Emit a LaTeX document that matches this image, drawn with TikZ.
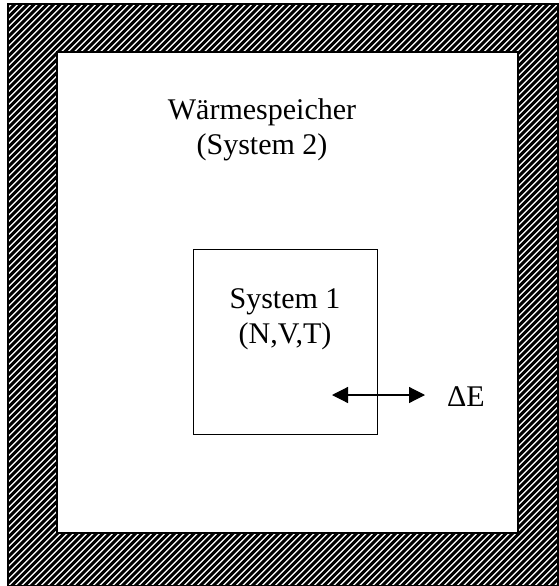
\documentclass[tikz,border=0pt]{standalone}
\usepackage{fontspec}
\setmainfont{Liberation Serif}
\usetikzlibrary{arrows.meta}
\begin{document}
\begin{tikzpicture}[x=1pt,y=-1pt,
  lbl/.style={font=\fontsize{30}{35}\selectfont, align=center, inner sep=0pt},
  hatch/.style={line width=3.1pt, black},
  edge/.style={line width=1.2pt, black},
  box/.style={draw=black, line width=1pt},
  exch/.style={line width=1.2pt, {Triangle[length=16pt,width=16pt]}-{Triangle[length=16pt,width=16pt]}}]
  \useasboundingbox (0,0) rectangle (558,586);
  \fill[white] (0,0) rectangle (558,586);
  % hatched wall
  \begin{scope}
    \clip (8,4) rectangle (558,586);
    \foreach \i in {-620,-613.5,...,580} {
      \draw[hatch] (\i,600) -- ++(620,-620);
    }
  \end{scope}
  \fill[white] (57,52) rectangle (518,533);
  \draw[edge] (8,4) rectangle (558,586);
  \draw[edge] (57,52) rectangle (518,533);
  % system 1 box
  \draw[box] (193,249) rectangle (377,434);
  % labels
  \node[lbl] (reservoir) at (262,130) {Wärmespeicher\\(System 2)};
  \node[lbl] (sys1) at (285,319) {System 1\\(N,V,T)};
  \node[lbl, anchor=base] (dE) at (466,406) {ΔE};
  % energy exchange arrow
  \coordinate (aL) at (332,395);
  \coordinate (aR) at (425,395);
  \draw[exch] (aL) -- (aR);
\end{tikzpicture}
\end{document}
